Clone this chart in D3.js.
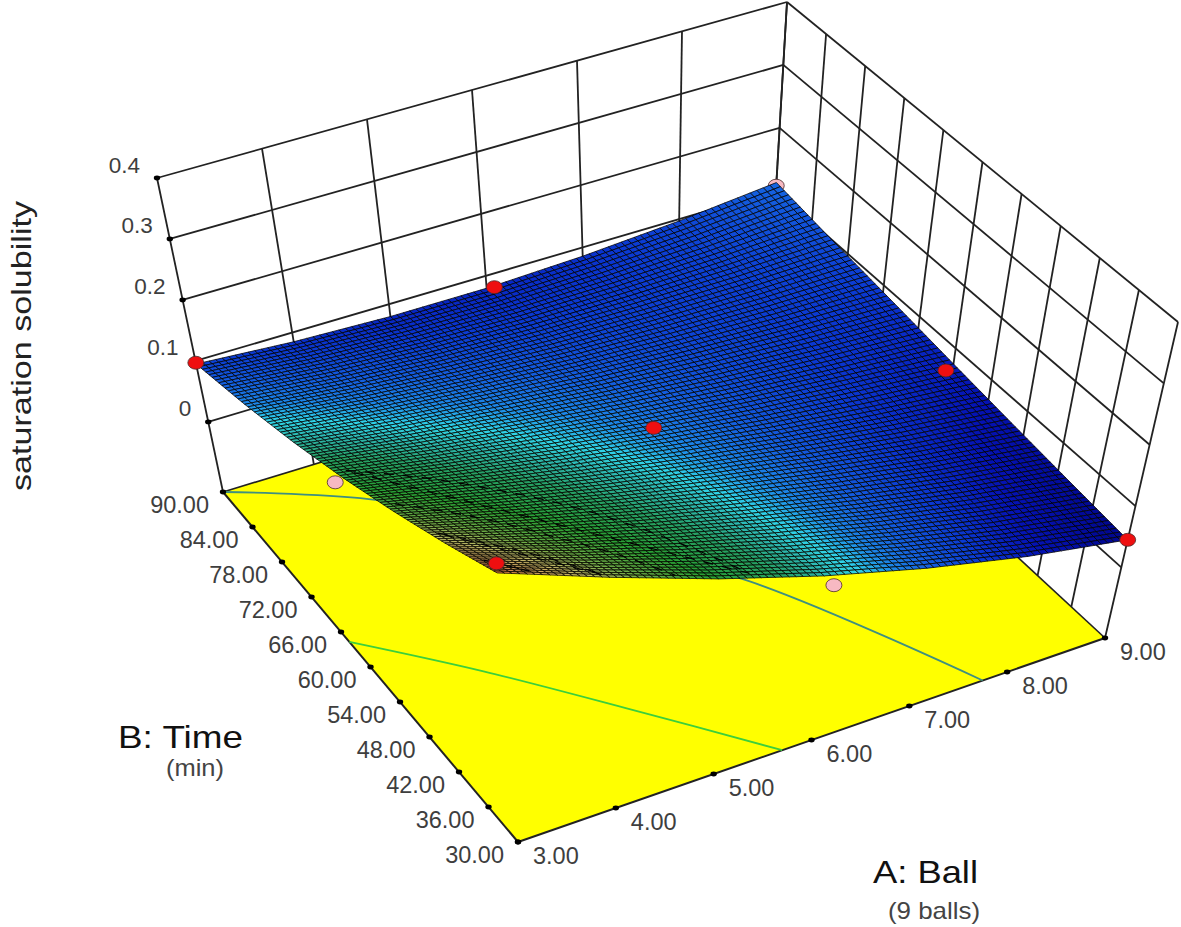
<!DOCTYPE html>
<html>
<head>
<meta charset="utf-8">
<script src="https://cdn.jsdelivr.net/npm/d3@7"></script>
<style>
    html, body { margin: 0; padding: 0; background: #fff; }
    text { font-family: "Liberation Sans", Arial, sans-serif; }
</style>
</head>
<body>
<div id="chart"></div>
<script>
'use strict';

// axis ticks
var ballTicks = [3, 4, 5, 6, 7, 8, 9];
var timeTicks = [30, 36, 42, 48, 54, 60, 66, 72, 78, 84, 90];
var zTicks = [0, 0.1, 0.2, 0.3, 0.4];

// surface heights: rows are tableTime, columns are ballTicks
var tableTime = [30, 40, 50, 60, 70, 80, 90];
var surfaceZ = [
    [0.332, 0.267, 0.207, 0.155, 0.111, 0.074, 0.045],
    [0.284, 0.232, 0.186, 0.145, 0.109, 0.079, 0.054],
    [0.239, 0.200, 0.165, 0.134, 0.107, 0.083, 0.064],
    [0.197, 0.169, 0.144, 0.122, 0.103, 0.088, 0.075],
    [0.159, 0.139, 0.123, 0.109, 0.099, 0.091, 0.087],
    [0.125, 0.111, 0.101, 0.095, 0.093, 0.094, 0.099],
    [0.095, 0.085, 0.080, 0.080, 0.086, 0.097, 0.113]
];

// design points
var redBall = [3, 6.08, 8.93, 6, 3, 9];
var redTime = [90, 90, 60, 60, 30, 30];
var redZ = [0.097, 0.078, 0.068, 0.124, 0.348, 0.045];
var pinkBall = [2.92, 6.1, 9];
var pinkTime = [60, 30, 90];
var pinkZ = [0.194, 0.134, 0.108];

// contours on the floor
var greenBall = [3, 3.9, 4.81, 5.7];
var greenTime = [64.3, 54.4, 42.6, 30];
var blueBall = [3, 4.21, 5.53, 6.71, 7.75];
var blueTime = [90, 82.9, 70.1, 54.8, 30];

// contour levels on the surface
var surfaceLevels = [0.19, 0.23, 0.27, 0.31];

// colour ramp
var rampZ = [0.045, 0.07, 0.09, 0.11, 0.125, 0.14, 0.155, 0.175, 0.21, 0.25, 0.28, 0.31, 0.34];
var rampColor = ['#00068c', '#0412b4', '#0a38d2', '#1460e0', '#1c88e8', '#30d4e8', '#2cb4a8', '#26a064', '#28a034', '#70ac48', '#c0b868', '#d09a58', '#e8602c'];

var width = 1181;
var height = 927;
var meshCells = 90;

// box corners on screen, floor level and the lift to the top of the box
var floorFront = [518, 842], floorRight = [1105, 638], floorLeft = [223, 492], floorBack = [768, 326];
var liftFront = [-24, -310], liftRight = [73, -316], liftLeft = [-66, -314], liftBack = [19, -324];

var u = d3.scaleLinear().domain([3, 9]).range([0, 1]);
var v = d3.scaleLinear().domain([30, 90]).range([0, 1]);
var t = d3.scaleLinear().domain([-0.115, 0.4]).range([0, 1]);
var color = d3.scaleLinear().domain(rampZ).range(rampColor).clamp(true);

var blend = function (p00, p10, p01, p11, a, b, i) {
    return (1 - a) * (1 - b) * p00[i] + a * (1 - b) * p10[i] + (1 - a) * b * p01[i] + a * b * p11[i];
};

var project = function (ball, time, z) {
    var a = u(ball), b = v(time), h = t(z);
    return [
        blend(floorFront, floorRight, floorLeft, floorBack, a, b, 0) + h * blend(liftFront, liftRight, liftLeft, liftBack, a, b, 0),
        blend(floorFront, floorRight, floorLeft, floorBack, a, b, 1) + h * blend(liftFront, liftRight, liftLeft, liftBack, a, b, 1)
    ];
};

var surfaceAt = function (ball, time) {
    var col = Math.min(Math.floor(ball - 3), ballTicks.length - 2);
    var row = Math.min(Math.floor((time - 30) / 10), tableTime.length - 2);
    var a = ball - ballTicks[col];
    var b = (time - tableTime[row]) / 10;
    return (1 - a) * (1 - b) * surfaceZ[row][col] + a * (1 - b) * surfaceZ[row][col + 1] +
        (1 - a) * b * surfaceZ[row + 1][col] + a * b * surfaceZ[row + 1][col + 1];
};

var svg = d3.select('#chart').append('svg').attr('width', width).attr('height', height);
var line = d3.line();
var zFloor = t.domain()[0];
var zTop = t.domain()[1];

var drawSegment = function (from, to, w) {
    svg.append('path').attr('d', line([from, to])).attr('fill', 'none').attr('stroke', '#222').attr('stroke-width', w);
};

// walls
ballTicks.forEach(function (a) {
    drawSegment(project(a, 90, zFloor), project(a, 90, zTop), 1.8);
});
timeTicks.forEach(function (b) {
    drawSegment(project(9, b, zFloor), project(9, b, zTop), 1.8);
});
zTicks.forEach(function (z) {
    drawSegment(project(3, 90, z), project(9, 90, z), 1.8);
    drawSegment(project(9, 90, z), project(9, 30, z), 1.8);
});

// floor
svg.append('path')
    .attr('d', line([[3, 30], [9, 30], [9, 90], [3, 90]].map(function (c) { return project(c[0], c[1], zFloor); })) + 'Z')
    .attr('fill', '#ffff00');
drawSegment(project(3, 90, zFloor), project(9, 90, zFloor), 1.6);
drawSegment(project(9, 90, zFloor), project(9, 30, zFloor), 1.6);
drawSegment(project(3, 30, zFloor), project(9, 30, zFloor), 2);
drawSegment(project(3, 30, zFloor), project(3, 90, zFloor), 2);

var contourLine = d3.line().curve(d3.curveCatmullRom);
var drawContour = function (balls, times, stroke) {
    svg.append('path')
        .attr('d', contourLine(balls.map(function (a, i) { return project(a, times[i], zFloor); })))
        .attr('fill', 'none').attr('stroke', stroke).attr('stroke-width', 1.8);
};
drawContour(greenBall, greenTime, '#3ccf3c');
drawContour(blueBall, blueTime, '#3f8f80');

// ticks
var drawTick = function (p) {
    svg.append('ellipse').attr('cx', p[0]).attr('cy', p[1]).attr('rx', 3.2).attr('ry', 2.4).attr('fill', '#000');
};
var drawLabel = function (p, dx, dy, anchor, label, size) {
    svg.append('text').attr('x', p[0] + dx).attr('y', p[1] + dy)
        .attr('text-anchor', anchor).attr('dominant-baseline', 'central')
        .attr('font-size', size).attr('fill', '#3e3e3e').text(label);
};
ballTicks.forEach(function (a) {
    var p = project(a, 30, zFloor);
    drawTick(p);
    drawLabel(p, 15, 14, 'start', a.toFixed(2), 23.5);
});
timeTicks.forEach(function (b) {
    var p = project(3, b, zFloor);
    drawTick(p);
    drawLabel(p, -14, 13, 'end', b.toFixed(2), 23.5);
});
zTicks.forEach(function (z) {
    var p = project(3, 90, z);
    drawTick(p);
    drawLabel(p, -17, -13, 'end', String(z), 22.5);
});

// markers
var drawMarker = function (ball, time, z, fill) {
    var p = project(ball, time, z);
    svg.append('ellipse').attr('cx', p[0]).attr('cy', p[1]).attr('rx', 8).attr('ry', 6.5)
        .attr('fill', fill).attr('stroke', '#4a2a2a').attr('stroke-width', 0.8);
};
pinkBall.forEach(function (a, i) { drawMarker(a, pinkTime[i], pinkZ[i], '#f7b9c2'); });

// surface mesh
var stepBall = d3.scaleLinear().domain([0, meshCells]).range([3, 9]);
var stepTime = d3.scaleLinear().domain([0, meshCells]).range([30, 90]);
var mesh = svg.append('g').attr('stroke', '#000').attr('stroke-width', 0.75);
d3.range(meshCells - 1, -1, -1).forEach(function (j) {
    d3.range(meshCells).forEach(function (i) {
        var corners = [[i, j], [i + 1, j], [i + 1, j + 1], [i, j + 1]].map(function (c) {
            var a = stepBall(c[0]), b = stepTime(c[1]);
            return project(a, b, surfaceAt(a, b));
        });
        var a = stepBall(i + 0.5), b = stepTime(j + 0.5);
        mesh.append('path').attr('d', line(corners) + 'Z').attr('fill', color(surfaceAt(a, b)));
    });
});

// black level lines on the low front part of the surface
var gridValues = [];
d3.range(meshCells).forEach(function (j) {
    d3.range(meshCells).forEach(function (i) {
        gridValues.push(surfaceAt(stepBall(i), stepTime(j)));
    });
});
d3.contours().size([meshCells, meshCells]).thresholds(surfaceLevels)(gridValues).forEach(function (level) {
    level.coordinates.forEach(function (polygon) {
        polygon.forEach(function (ring) {
            var inner = ring.filter(function (c) {
                return c[0] > 1 && c[1] > 1 && c[0] < meshCells - 1 && c[1] < meshCells - 1;
            }).map(function (c) {
                var a = stepBall(c[0]), b = stepTime(c[1]);
                return project(a, b, surfaceAt(a, b));
            });
            svg.append('path').attr('d', line(inner)).attr('fill', 'none')
                .attr('stroke', '#000').attr('stroke-width', 1.2).attr('stroke-dasharray', '10 9');
        });
    });
});

redBall.forEach(function (a, i) { drawMarker(a, redTime[i], redZ[i], '#ee0f10'); });

// titles
var drawTitle = function (x, y, label, size, length, fill) {
    return svg.append('text').attr('x', x).attr('y', y).attr('font-size', size).attr('fill', fill)
        .attr('textLength', length).attr('lengthAdjust', 'spacingAndGlyphs').text(label);
};
drawTitle(118, 748, 'B: Time', 32, 125, '#111');
drawTitle(166, 776, '(min)', 24, 58, '#444');
drawTitle(873, 883, 'A: Ball', 32, 105, '#111');
drawTitle(888, 919, '(9 balls)', 24, 92, '#444');
drawTitle(0, 0, 'saturation solubility', 28, 290, '#222')
    .attr('transform', 'translate(31,491) rotate(-90)');
</script>
</body>
</html>
